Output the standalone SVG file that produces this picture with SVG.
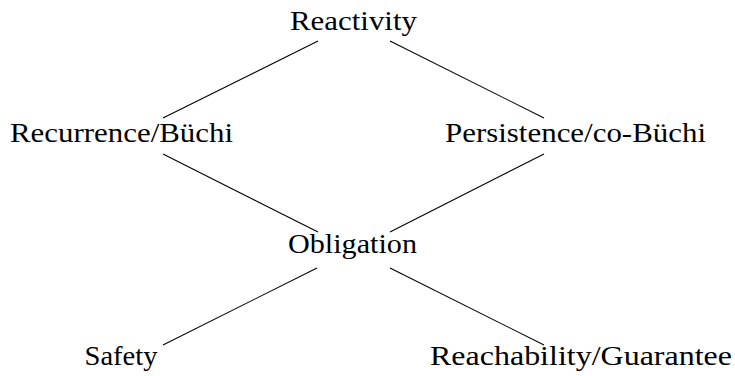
<svg xmlns="http://www.w3.org/2000/svg" width="735" height="376" viewBox="0 0 735 376">
<style>
text{font-family:"Liberation Serif","Times New Roman",serif;font-size:27.5px;fill:#000;text-anchor:middle}
line{stroke:#000;stroke-width:1.1}
</style>
<rect width="735" height="376" fill="#fff"/>
<g id="connectors">
<line x1="163" y1="118" x2="318" y2="41"/>
<line x1="390" y1="41" x2="544" y2="118"/>
<line x1="163" y1="154" x2="318" y2="232"/>
<line x1="544" y1="154" x2="390" y2="232"/>
<line x1="317" y1="268" x2="163" y2="345"/>
<line x1="390" y1="268" x2="544" y2="345"/>
</g>
<g id="reactivity"><text x="353.5" y="30" textLength="127" lengthAdjust="spacingAndGlyphs">Reactivity</text></g>
<g id="recurrence"><text x="121.5" y="142" textLength="223" lengthAdjust="spacingAndGlyphs">Recurrence/Büchi</text></g>
<g id="persistence"><text x="575.5" y="142" textLength="261" lengthAdjust="spacingAndGlyphs">Persistence/co-Büchi</text></g>
<g id="obligation"><text x="352.5" y="253" textLength="129" lengthAdjust="spacingAndGlyphs">Obligation</text></g>
<g id="safety"><text x="121" y="365" textLength="73" lengthAdjust="spacingAndGlyphs">Safety</text></g>
<g id="reachability"><text x="581" y="365" textLength="302" lengthAdjust="spacingAndGlyphs">Reachability/Guarantee</text></g>
</svg>
